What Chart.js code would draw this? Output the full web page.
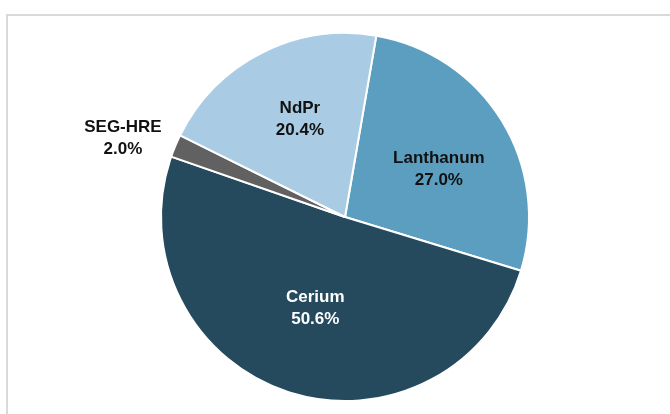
<!DOCTYPE html>
<html>
<head>
<meta charset="utf-8">
<script src="https://cdn.jsdelivr.net/npm/chart.js@4/dist/chart.umd.min.js"></script>
<style>
  html, body { margin: 0; padding: 0; background: #ffffff; }
  #wrap { position: relative; width: 670px; height: 414px; overflow: hidden; }
  #frame {
    position: absolute; left: 6px; top: 14px; width: 700px; height: 440px;
    border-left: 2px solid #d9d9d9; border-top: 2px solid #d9d9d9;
  }
  #chart { position: absolute; left: 0; top: 0; }
</style>
</head>
<body>
<div id="wrap">
  <div id="frame"></div>
  <canvas id="chart" width="670" height="414"></canvas>
</div>
<script>
// share of output by product (%)
const products = ['Lanthanum', 'Cerium', 'SEG-HRE', 'NdPr'];
const shares = [27.0, 50.6, 2.0, 20.4];
const sliceColors = ['#5b9ec0', '#254a5e', '#616161', '#a9cce4'];
const labelColors = ['#111111', '#ffffff', '#111111', '#111111'];
// label placement: distance from centre (fraction of radius) and a small turn (deg)
const labelDistance = [0.573, 0.52, 1.28, 0.586];
const labelTurn = [4.5, 0, -3.3, 2.2];

const sliceLabels = {
  id: 'sliceLabels',
  afterDatasetsDraw(chart) {
    const ctx = chart.ctx;
    const arcs = chart.getDatasetMeta(0).data;
    ctx.save();
    ctx.font = 'bold 17px "Liberation Sans", Arial, sans-serif';
    ctx.textAlign = 'center';
    ctx.textBaseline = 'middle';
    arcs.forEach((arc, i) => {
      const p = arc.getProps(['x', 'y', 'startAngle', 'endAngle', 'outerRadius'], true);
      const mid = (p.startAngle + p.endAngle) / 2 + labelTurn[i] * Math.PI / 180;
      const r = p.outerRadius * labelDistance[i];
      const x = p.x + Math.cos(mid) * r;
      const y = p.y + Math.sin(mid) * r;
      ctx.fillStyle = labelColors[i];
      ctx.fillText(products[i], x, y - 11);
      ctx.fillText(shares[i].toFixed(1) + '%', x, y + 11);
    });
    ctx.restore();
  }
};

new Chart(document.getElementById('chart'), {
  type: 'pie',
  data: {
    labels: products,
    datasets: [{
      data: shares,
      backgroundColor: sliceColors,
      borderColor: '#ffffff',
      borderWidth: 2
    }]
  },
  options: {
    responsive: false,
    animation: false,
    rotation: 9.8,
    layout: { padding: { left: 160, right: 140, top: 32, bottom: 12 } },
    plugins: {
      legend: { display: false },
      tooltip: { enabled: false }
    }
  },
  plugins: [sliceLabels]
});
</script>
</body>
</html>
